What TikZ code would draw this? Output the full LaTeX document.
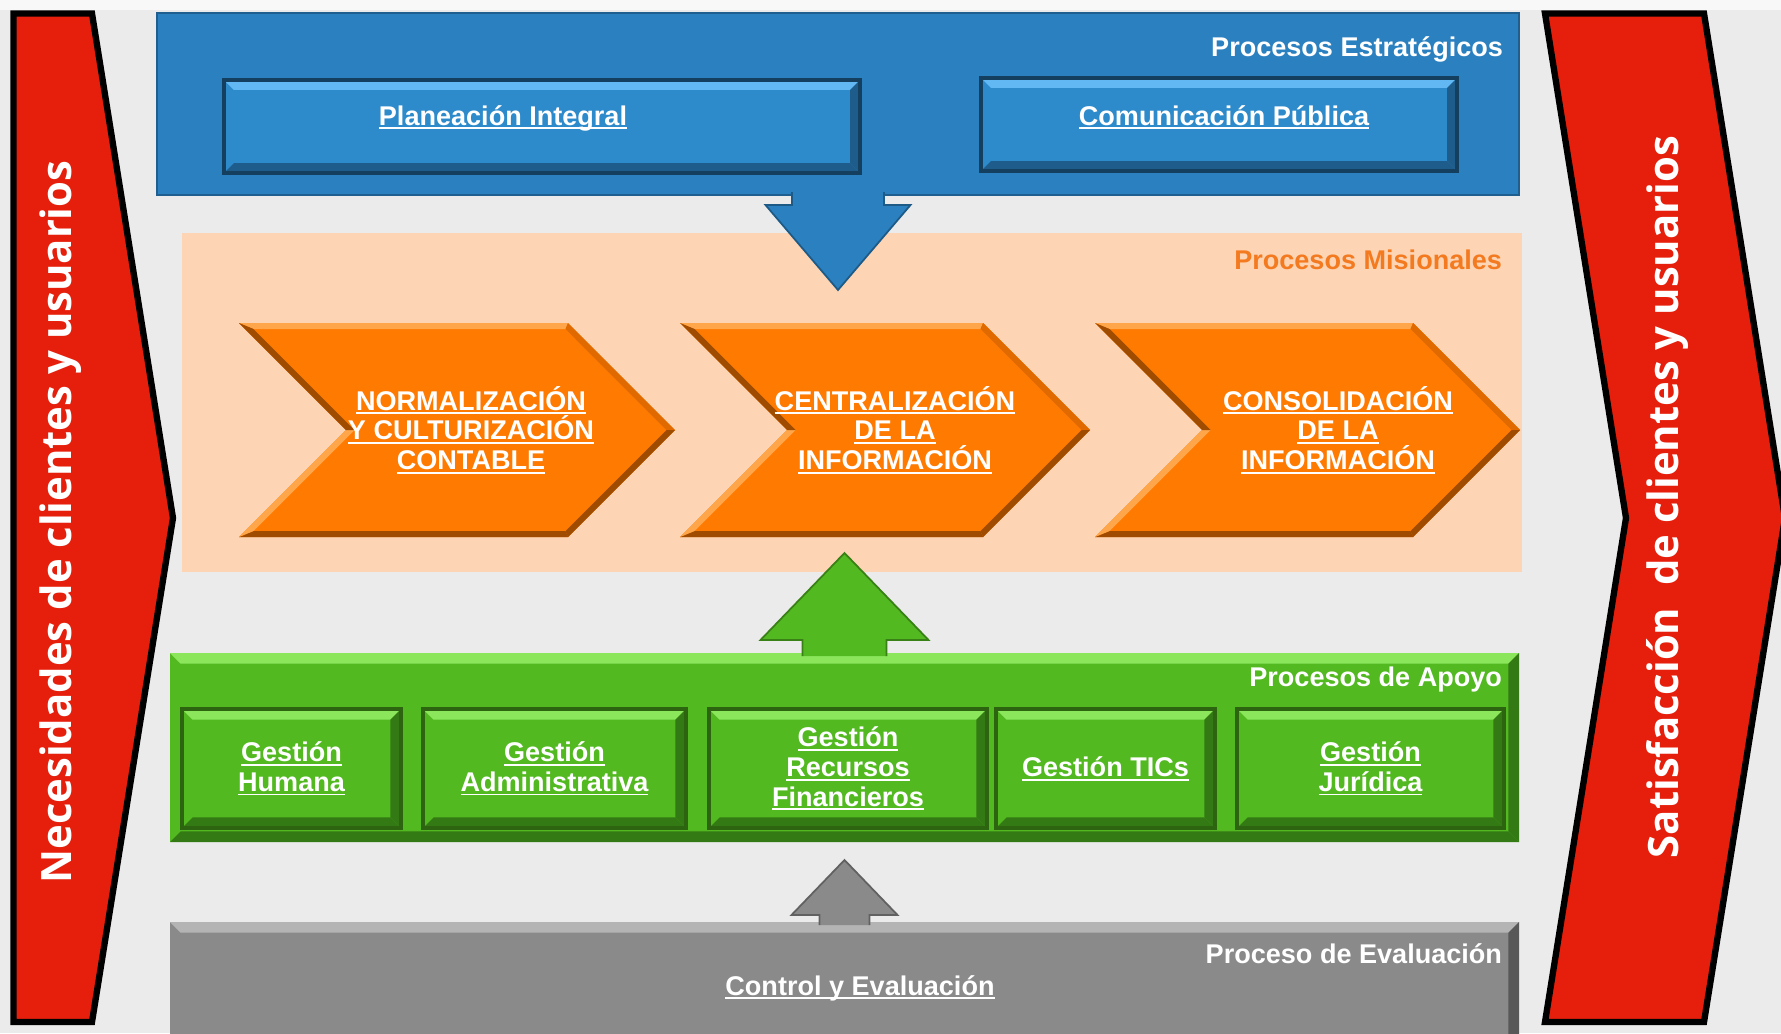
\documentclass[tikz,border=0pt]{standalone}
\usepackage{fontspec}
\setmainfont{Liberation Sans}
\newfontfamily\sidefont{Open Sans}
\usetikzlibrary{calc}

\newcommand{\undl}[1]{\begingroup\setbox0=\hbox{#1}\rlap{\rule[-1.2pt]{\wd0}{0.55pt}}\box0\endgroup}

\definecolor{bggray}{HTML}{EBEBEB}
\definecolor{topstrip}{HTML}{F8F8F8}
\definecolor{sidered}{HTML}{E61F0C}
\definecolor{stratblue}{HTML}{2B80C0}
\definecolor{stratedge}{HTML}{1F5F90}
\definecolor{btnblue}{HTML}{2E8BCB}
\definecolor{btnbluelight}{HTML}{62B8F2}
\definecolor{btnblueshade}{HTML}{1E5C8C}
\definecolor{btnblueborder}{HTML}{143F5E}
\definecolor{peach}{HTML}{FDD5B5}
\definecolor{misorange}{HTML}{F47A20}
\definecolor{chevface}{HTML}{FF7A00}
\definecolor{chevlight}{HTML}{FFA54A}
\definecolor{chevmid}{HTML}{E06A00}
\definecolor{chevdark}{HTML}{A04C00}
\definecolor{apoyogreen}{HTML}{52B920}
\definecolor{greenlight}{HTML}{8CE65C}
\definecolor{greenshade}{HTML}{347A14}
\definecolor{greenborder}{HTML}{2C6410}
\definecolor{evalgray}{HTML}{8A8A8A}
\definecolor{graylight}{HTML}{B4B4B4}
\definecolor{grayshade}{HTML}{585858}

\tikzset{
  every node/.style={inner sep=0pt, outer sep=0pt},
  bevel/.style n args={3}{path picture={
      \coordinate (bnw) at (path picture bounding box.north west);
      \coordinate (bne) at (path picture bounding box.north east);
      \coordinate (bse) at (path picture bounding box.south east);
      \coordinate (bsw) at (path picture bounding box.south west);
      \fill[#1] (bnw) -- (bne) -- ([shift={(-#3,-#3)}]bne) -- ([shift={(#3,-#3)}]bnw) -- cycle;
      \fill[#2] (bne) -- (bse) -- ([shift={(-#3,#3)}]bse) -- ([shift={(-#3,-#3)}]bne) -- cycle;
      \fill[#2] (bse) -- (bsw) -- ([shift={(#3,#3)}]bsw) -- ([shift={(-#3,#3)}]bse) -- cycle;
  }},
  sidearrow/.style={fill=sidered, draw=black, line width=1.8pt, line join=miter},
  sidetext/.style={text=white, rotate=90, anchor=base, font={\sidefont\bfseries\fontsize{11.9}{14}\selectfont}},
  btntext/.style={text=white, font={\bfseries\fontsize{7.7}{8.5}\selectfont}},
  grouptitle/.style={text=white, anchor=base east, font={\bfseries\fontsize{7.7}{8.5}\selectfont}},
  chevtext/.style={btntext, align=center},
  stratbox/.style={rectangle, fill=stratblue, draw=stratedge, line width=0.6pt},
  bluebtn/.style={rectangle, fill=btnblue, draw=btnblueborder, line width=1pt, minimum height=0.93cm, bevel={btnbluelight}{btnblueshade}{2.8pt}},
  misbox/.style={rectangle, fill=peach},
  apoyobox/.style={rectangle, fill=apoyogreen, bevel={greenlight}{greenshade}{3pt}},
  greenbtn/.style={rectangle, fill=apoyogreen, draw=greenborder, line width=0.9pt, minimum height=1.19cm, bevel={greenlight}{greenshade}{3pt}, btntext, align=center},
  evalbox/.style={rectangle, fill=evalgray, bevel={graylight}{grayshade}{3pt}},
  blockarrow/.style={fill=#1, draw=#1!70!black, line width=0.5pt, line join=miter},
}

\begin{document}
\begin{tikzpicture}[x=1cm, y=-1cm]
\useasboundingbox (0,0) rectangle (17.81,10.33);
\clip (0,0) rectangle (17.81,10.33);
\fill[bggray] (0,0) rectangle (17.81,10.33);
\fill[topstrip] (0,0) rectangle (17.81,0.10);

% clientes: entrada y salida
\draw[sidearrow] (0.135,0.135) -- (0.92,0.135) -- (1.73,5.18) -- (0.92,10.22) -- (0.135,10.22) -- cycle;
\draw[sidearrow] (15.45,0.135) -- (17.04,0.135) -- (17.85,5.18) -- (17.04,10.22) -- (15.45,10.22) -- (16.26,5.18) -- cycle;
\node[sidetext] (necesidades) at (0.71,5.22) {Necesidades de clientes y usuarios};
\node[sidetext] (satisfaccion) at (16.78,4.97) {Satisfacción\ \ de clientes y usuarios};

% estrategicos
\node[stratbox, minimum width=13.62cm, minimum height=1.82cm] (estrategicos) at (8.38,1.04) {};
\node[grouptitle] (titestr) at (15.03,0.56) {Procesos Estratégicos};
\node[bluebtn, minimum width=6.36cm] (planeacion) at (5.42,1.265) {};
\node[btntext, anchor=base] (txtplan) at (5.03,1.25) {\undl{Planeación Integral}};
\node[bluebtn, minimum width=4.76cm] (comunicacion) at (12.19,1.245) {};
\node[btntext, anchor=base] (txtcom) at (12.24,1.25) {\undl{Comunicación Pública}};

% misionales
\node[misbox, minimum width=13.40cm, minimum height=3.39cm] (misionales) at (8.52,4.025) {};
\node[grouptitle, text=misorange] (titmis) at (15.02,2.69) {Procesos Misionales};

\foreach \nm/\cl/\cw/\tx/\txt in {%
  normalizacion/2.39/4.36/4.71/{\undl{NORMALIZACIÓN}\\\undl{Y CULTURIZACIÓN}\\\undl{CONTABLE}},
  centralizacion/6.80/4.10/8.95/{\undl{CENTRALIZACIÓN}\\\undl{DE LA}\\\undl{INFORMACIÓN}},
  consolidacion/10.95/4.25/13.38/{\undl{CONSOLIDACIÓN}\\\undl{DE LA}\\\undl{INFORMACIÓN}}}{
  \pgfmathsetmacro{\cp}{\cl+\cw}
  \pgfmathsetmacro{\ck}{\cp-1.07}
  \pgfmathsetmacro{\cn}{\cl+1.07}
  \fill[chevface] (\cl,3.23) -- (\ck,3.23) -- (\cp,4.30) -- (\ck,5.37) -- (\cl,5.37) -- (\cn,4.30) -- cycle;
  \fill[chevlight] (\cl,3.23) -- (\ck,3.23) -- (\ck-0.025,3.29) -- (\cl+0.145,3.29) -- cycle;
  \fill[chevmid] (\ck,3.23) -- (\cp,4.30) -- (\cp-0.085,4.30) -- (\ck-0.025,3.29) -- cycle;
  \fill[chevdark] (\cp,4.30) -- (\ck,5.37) -- (\ck-0.025,5.31) -- (\cp-0.085,4.30) -- cycle;
  \fill[chevdark] (\ck,5.37) -- (\cl,5.37) -- (\cl+0.145,5.31) -- (\ck-0.025,5.31) -- cycle;
  \fill[chevlight] (\cl,5.37) -- (\cn,4.30) -- (\cn+0.085,4.30) -- (\cl+0.145,5.31) -- cycle;
  \fill[chevdark] (\cn,4.30) -- (\cl,3.23) -- (\cl+0.145,3.29) -- (\cn+0.085,4.30) -- cycle;
  \node[chevtext] (\nm) at (\tx,4.30) {\txt};
}

\draw[blockarrow=stratblue] ($(estrategicos.south)+(-0.46,-0.03)$) -- ++(0,0.13) -- ++(-0.265,0)
  -- ++(0.725,0.85) -- ++(0.725,-0.85) -- ++(-0.265,0) -- ++(0,-0.13);

% apoyo
\node[apoyobox, minimum width=13.49cm, minimum height=1.89cm] (apoyo) at (8.445,7.475) {};
\node[grouptitle] (titapoyo) at (15.02,6.86) {Procesos de Apoyo};
\node[greenbtn, minimum width=2.19cm] (humana) at (2.915,7.685) {\undl{Gestión}\\\undl{Humana}};
\node[greenbtn, minimum width=2.63cm] (administrativa) at (5.545,7.685) {\undl{Gestión}\\\undl{Administrativa}};
\node[greenbtn, minimum width=2.78cm] (financieros) at (8.48,7.685) {\undl{Gestión}\\\undl{Recursos}\\\undl{Financieros}};
\node[greenbtn, minimum width=2.19cm] (tics) at (11.055,7.685) {\undl{Gestión TICs}};
\node[greenbtn, minimum width=2.67cm] (juridica) at (13.705,7.685) {\undl{Gestión}\\\undl{Jurídica}};
\draw[blockarrow=apoyogreen] ($(apoyo.north)+(-0.42,0.03)$) -- ++(0,-0.16) -- ++(-0.42,0)
  -- ++(0.84,-0.87) -- ++(0.84,0.87) -- ++(-0.42,0) -- ++(0,0.16);

% evaluacion
\node[evalbox, minimum width=13.49cm, minimum height=1.30cm] (evaluacion) at (8.445,9.87) {};
\node[grouptitle] (titeval) at (15.02,9.63) {Proceso de Evaluación};
\node[btntext, anchor=base] (control) at (8.60,9.95) {\undl{Control y Evaluación}};
\draw[blockarrow=evalgray] ($(evaluacion.north)+(-0.25,0.03)$) -- ++(0,-0.10) -- ++(-0.28,0)
  -- ++(0.53,-0.55) -- ++(0.53,0.55) -- ++(-0.28,0) -- ++(0,0.10);
\end{tikzpicture}
\end{document}
